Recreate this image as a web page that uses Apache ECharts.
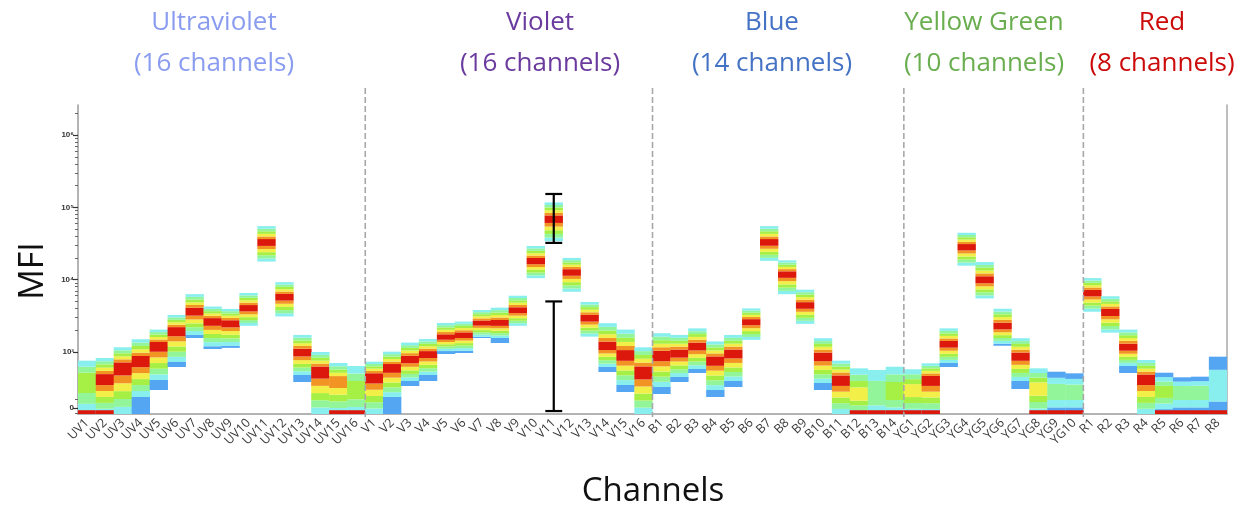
<!DOCTYPE html>
<html><head><meta charset="utf-8">
<script src="https://cdn.jsdelivr.net/npm/echarts@6/dist/echarts.min.js"></script>
<style>html,body{margin:0;padding:0;background:#fff}#c{width:1250px;height:510px}</style>
</head><body><div id="c"></div>
<script>
// ---------- data ----------
const groupNames  = ['Ultraviolet', 'Violet', 'Blue', 'Yellow Green', 'Red'];
const groupCounts = [16, 16, 14, 10, 8];
const groupPrefix = ['UV', 'V', 'B', 'YG', 'R'];
const groupColors = ['#8a9cf0', '#6b3a9e', '#4472c4', '#6aae50', '#cc0a0a'];

const channels = [];
groupPrefix.forEach((p, g) => { for (let k = 1; k <= groupCounts[g]; k++) channels.push(p + k); });

// MFI of the bottom edge of each channel's distribution
const bandLow = [
  -120, -120, -120, -120, 321, 732, 1560, 1100, 1140, 2300, 17800, 3100, 464, -120, -120, -120,
  -120, -120, 393, 482, 964, 982, 1560, 1330, 2300, 10500, 34000, 6800, 1630, 643, 286, -120,
  250, 464, 625, 196, 375, 1470, 18200, 6300, 2450, 321, -120, -120, -120, -120,
  -120, -120, 732, 15600, 5500, 1220, 339, -120, -120, -120,
  3600, 1850, 625, -120, -120, -120, -120, -120
];
// MFI where the faint (blue) lower tail ends; null = no tail
const tailTop = [
  null, null, null, 196, 500, 821, 1720, 1200, 1220, null, null, null, 589, null, null, null,
  null, 196, 482, 589, 1030, 1040, 1620, 1560, null, null, null, null, null, 732, 411, null,
  375, 554, 696, 321, 482, null, null, null, null, 446, null, null, null, null,
  null, null, 804, null, null, 1300, 482, null, null, null,
  null, null, 750, null, null, null, null, null
];
// MFI of the densest (peak) level
const peakMFI = [
  500, 536, 750, 857, 1250, 2010, 3690, 2690, 2520, 4060, 33000, 5800, 1000, 679, 500, 321,
  571, 732, 875, 964, 1610, 1720, 2520, 2520, 3800, 18200, 70000, 12800, 2950, 1210, 946, 661,
  946, 982, 1210, 857, 982, 2620, 33000, 12000, 4440, 929, 518, 232, 250, 300,
  321, 518, 1290, 28500, 10000, 2290, 929, 357, 300, 300,
  6600, 3570, 1170, 536, 300, 300, 300, 400
];
// MFI of the top edge
const bandHigh = [
  845, 893, 1162, 1500, 2040, 3250, 6300, 4250, 3940, 6550, 55000, 9230, 1720, 1000, 803, 750,
  827, 1010, 1350, 1510, 2520, 2630, 3800, 4100, 6000, 29200, 117000, 20000, 4920, 2500, 2040, 1160,
  1820, 1720, 2120, 1400, 1720, 4000, 55000, 18500, 7270, 1550, 845, 708, 679, 737,
  691, 798, 2120, 44500, 17500, 3960, 1550, 708, 648, 619,
  10500, 5900, 2040, 857, 630, 548, 559, 916
];
// highest density level reached (6 red, 5 orange, 4 yellow, 3 green, 2 light green, 1 cyan)
const peakLevel = [
  3, 6, 6, 6, 6, 6, 6, 6, 6, 6, 6, 6, 6, 6, 5, 3,
  6, 6, 6, 6, 6, 6, 6, 6, 6, 6, 6, 6, 6, 6, 6, 6,
  6, 6, 6, 6, 6, 6, 6, 6, 6, 6, 6, 4, 2, 3,
  4, 6, 6, 6, 6, 6, 6, 4, 2, 2,
  6, 6, 6, 6, 3, 2, 2, 1
];
// density level at the edges (1 cyan, 0 blue)
const edgeLevel = [
  1, 1, 1, 1, 1, 1, 1, 1, 1, 1, 1, 1, 1, 1, 1, 1,
  1, 1, 1, 1, 1, 1, 1, 1, 1, 1, 1, 1, 1, 1, 1, 1,
  1, 1, 1, 1, 1, 1, 1, 1, 1, 1, 1, 1, 1, 1,
  1, 1, 1, 1, 1, 1, 1, 1, 0, 0,
  1, 1, 1, 1, 0, 0, 0, 0
];
// 1 = events piled up at zero (red stripe on the baseline)
const zeroPile = [
  1, 1, 0, 0, 0, 0, 0, 0, 0, 0, 0, 0, 0, 0, 1, 1,
  0, 0, 0, 0, 0, 0, 0, 0, 0, 0, 0, 0, 0, 0, 0, 0,
  0, 0, 0, 0, 0, 0, 0, 0, 0, 0, 0, 1, 1, 1,
  1, 1, 0, 0, 0, 0, 0, 1, 1, 1,
  0, 0, 0, 0, 1, 1, 1, 1
];
const zeroStripeTop = -40;
// annotated ranges on V11: [channel index, low MFI, high MFI]
const errorBars = [[26, 32200, 153000], [26, -54, 5000]];
const majorTicks = [0, 1e3, 1e4, 1e5, 1e6];
const majorLabels = ['0', '10³', '10⁴', '10⁵', '10⁶'];
const extraTicks = [-90, 150];

// ---------- scale (biexponential-like: linear below 10^3, log above) ----------
const Z0 = 2.2254, YMIN = 2.1425, YMAX = 6.415;
const disp = v => v >= 1000 ? Math.log10(v) : Z0 + (3 - Z0) * v / 1000;
const minorTicks = extraTicks.map(disp);
for (let n = 3; n <= 6; n++) for (let k = 2; k <= 9; k++) { const t = Math.log10(k * Math.pow(10, n)); if (t < YMAX) minorTicks.push(t); }
const majorVals = majorTicks.map(disp);

const palette = ['#55a6f2', '#88eeee', '#92f59a', '#a6ef45', '#f1ef48', '#f29424', '#dc170b'];
const boundaries = [];
{ let s = 0; groupCounts.slice(0, -1).forEach(c => { s += c; boundaries.push([s]); }); }

function renderBand(params, api) {
  const i = params.dataIndex;
  const cs = params.coordSys;
  const x0 = api.coord([i, YMIN])[0] - 0.2, x1 = api.coord([i + 1, YMIN])[0] + 0.2;
  const yPx = v => api.coord([i, disp(v)])[1];
  const children = [];
  const rect = (ya, yb, color) => {
    const r = echarts.graphic.clipRectByRect(
      { x: x0, y: Math.min(ya, yb), width: x1 - x0, height: Math.abs(ya - yb) },
      { x: cs.x, y: cs.y, width: cs.width, height: cs.height });
    if (r) children.push({ type: 'rect', shape: r, style: { fill: color } });
  };
  const pLo = yPx(bandLow[i]);
  const pTail = tailTop[i] != null ? yPx(tailTop[i]) : pLo;
  const pPk = yPx(peakMFI[i]), pHi = yPx(bandHigh[i]);
  if (tailTop[i] != null) rect(pLo, pTail, palette[0]);
  const m = peakLevel[i], e = edgeLevel[i], n = m - e;
  if (n <= 0) {
    rect(pTail, pHi, palette[m]);
  } else {
    const RH = 1.2, units = n + RH;
    const ub = (pTail - pPk) / units, ua = (pPk - pHi) / units;
    for (let k = 0; k < n; k++) rect(pTail - k * ub, pTail - (k + 1) * ub, palette[e + k]);
    rect(pPk + RH * ub, pPk - RH * ua, palette[m]);
    const s = pPk - RH * ua;
    for (let k = 0; k < n; k++) rect(s - k * ua, s - (k + 1) * ua, palette[m - 1 - k]);
  }
  if (zeroPile[i]) rect(yPx(-200), yPx(zeroStripeTop), palette[6]);
  return { type: 'group', children };
}

function renderError(params, api) {
  const x = api.coord([api.value(0), 0])[0];
  const yl = api.coord([0, api.value(1)])[1], yh = api.coord([0, api.value(2)])[1];
  const hw = api.size([1, 0])[0] * 0.47;
  const st = { stroke: '#000', lineWidth: 2.2 };
  return { type: 'group', children: [
    { type: 'line', shape: { x1: x, y1: yl, x2: x, y2: yh }, style: st },
    { type: 'line', shape: { x1: x - hw, y1: yl, x2: x + hw, y2: yl }, style: st },
    { type: 'line', shape: { x1: x - hw, y1: yh, x2: x + hw, y2: yh }, style: st }
  ]};
}

function renderSep(params, api) {
  const x = api.coord([api.value(0), YMAX])[0];
  const top = params.coordSys.y - 17, bot = params.coordSys.y + params.coordSys.height + 3;
  return { type: 'line', shape: { x1: x, y1: top, x2: x, y2: bot },
    style: { stroke: '#a8a8a8', lineWidth: 1.6, lineDash: [6, 3] } };
}

const FONT = '"Open Sans", "Noto Sans", sans-serif';
const graphics = [];
{
  const centers = [214, 540, 772, 984, 1162];
  groupNames.forEach((g, k) => {
    graphics.push({ type: 'text', x: centers[k], y: 23, style: { text: g, textAlign: 'center', textVerticalAlign: 'middle', align: 'center', verticalAlign: 'middle', fill: groupColors[k], font: '26px ' + FONT } });
    graphics.push({ type: 'text', x: centers[k], y: 64, style: { text: '(' + groupCounts[k] + ' channels)', textAlign: 'center', textVerticalAlign: 'middle', align: 'center', verticalAlign: 'middle', fill: groupColors[k], font: '26px ' + FONT } });
  });
}
graphics.push({ type: 'text', x: 33, y: 271, rotation: Math.PI / 2, style: { text: 'MFI', textAlign: 'center', textVerticalAlign: 'middle', align: 'center', verticalAlign: 'middle', fill: '#111', font: '34px ' + FONT } });
graphics.push({ type: 'text', x: 653, y: 492, style: { text: 'Channels', textAlign: 'center', textVerticalAlign: 'middle', align: 'center', verticalAlign: 'middle', fill: '#111', font: '33px ' + FONT } });

const chart = echarts.init(document.getElementById('c'));
chart.setOption({
  animation: false,
  backgroundColor: '#fff',
  grid: { left: 78, right: 23, top: 105, bottom: 96 },
  graphic: graphics,
  xAxis: [
    { type: 'category', data: channels, boundaryGap: true,
      axisLine: { lineStyle: { color: '#9a9a9a', width: 1.5 } },
      axisTick: { alignWithLabel: true, length: 5, lineStyle: { color: '#222', width: 1.5 } },
      axisLabel: { interval: 0, rotate: 45, fontSize: 12.5, color: '#3a3a3a', margin: 7, fontFamily: FONT } },
    { type: 'value', min: 0, max: channels.length, show: false }
  ],
  yAxis: [
    { type: 'value', min: YMIN, max: YMAX, position: 'left',
      axisLine: { show: true, lineStyle: { color: '#9a9a9a', width: 1.5 } },
      axisTick: { show: true, customValues: majorVals, length: 5, lineStyle: { color: '#333', width: 1.2 } },
      axisLabel: { show: true, customValues: majorVals, margin: 4, fontSize: 8, fontWeight: 'bold', color: '#333', fontFamily: 'Liberation Sans, sans-serif',
        formatter: v => { let b = 0, bd = 1e9; majorVals.forEach((m, k) => { if (Math.abs(m - v) < bd) { bd = Math.abs(m - v); b = k; } }); return majorLabels[b]; } },
      splitLine: { show: false } },
    { type: 'value', min: YMIN, max: YMAX, position: 'left', offset: 0,
      axisLine: { show: false },
      axisTick: { show: true, customValues: minorTicks, length: 3, lineStyle: { color: '#666', width: 1 } },
      axisLabel: { show: false }, splitLine: { show: false } },
    { type: 'value', min: YMIN, max: YMAX, position: 'right',
      axisLine: { show: true, lineStyle: { color: '#a8a8a8', width: 1.5 } },
      axisTick: { show: false }, axisLabel: { show: false }, splitLine: { show: false } }
  ],
  series: [
    { type: 'custom', name: 'bands', xAxisIndex: 1, yAxisIndex: 0, renderItem: renderBand,
      data: channels.map((c, i) => [i + 0.5, disp(peakMFI[i])]), encode: { x: 0, y: 1 }, silent: true },
    { type: 'custom', name: 'sep', xAxisIndex: 1, yAxisIndex: 0, renderItem: renderSep, clip: false,
      data: boundaries, encode: { x: 0 }, silent: true, z: 3 },
    { type: 'custom', name: 'err', xAxisIndex: 1, yAxisIndex: 0, renderItem: renderError, clip: false,
      data: errorBars.map(b => [b[0] + 0.5, disp(b[1]), disp(b[2])]), encode: { x: 0, y: [1, 2] }, silent: true, z: 4 }
  ]
});
</script></body></html>
